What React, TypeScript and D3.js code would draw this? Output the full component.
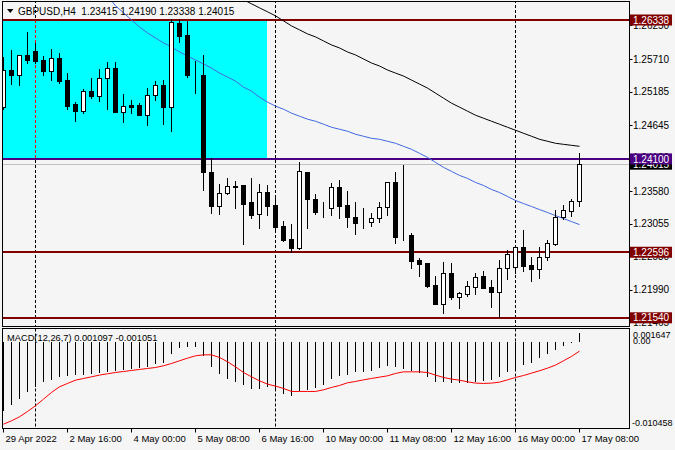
import React from 'react';
import * as d3 from 'd3';

// GBPUSD H4 candles, 29 Apr 2022 .. 17 May 2022 08:00
const opens = [
  1.24934, 1.25532, 1.25451, 1.25775, 1.25839, 1.25694, 1.25516, 1.25726, 1.2537, 1.24982,
  1.24869, 1.25192, 1.25112, 1.25403, 1.25564, 1.24853, 1.24966, 1.24966, 1.24804, 1.25128,
  1.25289, 1.24934, 1.26292, 1.26098, 1.25451, 1.25451, 1.23883, 1.23349, 1.23543, 1.23656,
  1.23672, 1.23398, 1.2322, 1.23559, 1.23365, 1.23026, 1.22815, 1.2267, 1.23883, 1.23462,
  1.23268, 1.23301, 1.2364, 1.23365, 1.23171, 1.2309, 1.2309, 1.23155, 1.23333, 1.23721,
  1.22864, 1.2288, 1.22476, 1.22427, 1.22072, 1.21764, 1.22266, 1.21878, 1.21926, 1.22039,
  1.22217, 1.22039, 1.21958, 1.22346, 1.22363, 1.22686, 1.22395, 1.2233, 1.22524, 1.22735,
  1.23171, 1.23268, 1.23415,
];
const highs = [
  1.25742, 1.25855, 1.25775, 1.26146, 1.25969, 1.25758, 1.25872, 1.25807, 1.25483, 1.25015,
  1.25225, 1.25403, 1.25548, 1.25661, 1.25661, 1.25144, 1.25047, 1.24998, 1.25241, 1.25354,
  1.2537, 1.26357, 1.26357, 1.26324, 1.25677, 1.25775, 1.24109, 1.23689, 1.23786, 1.23737,
  1.23672, 1.23786, 1.23689, 1.23672, 1.23478, 1.23106, 1.23058, 1.24044, 1.23883, 1.23527,
  1.23398, 1.23705, 1.23753, 1.23575, 1.23398, 1.23301, 1.23236, 1.23398, 1.23721, 1.23883,
  1.23996, 1.22912, 1.22508, 1.22427, 1.22217, 1.22443, 1.22427, 1.21958, 1.22136, 1.22266,
  1.22298, 1.22152, 1.22476, 1.22638, 1.22686, 1.22961, 1.22524, 1.22686, 1.22799, 1.23284,
  1.23365, 1.23462, 1.2419,
];
const lows = [
  1.24901, 1.25306, 1.25289, 1.25645, 1.25645, 1.25451, 1.2537, 1.25322, 1.24901, 1.24707,
  1.24837, 1.25079, 1.25031, 1.24901, 1.24853, 1.24691, 1.24837, 1.24804, 1.24643, 1.25047,
  1.24659, 1.24546, 1.25985, 1.25419, 1.2516, 1.23592, 1.23236, 1.2322, 1.23527, 1.23317,
  1.22735, 1.23155, 1.22993, 1.23203, 1.22929, 1.22783, 1.22605, 1.22654, 1.22993, 1.2322,
  1.23171, 1.23203, 1.23155, 1.23009, 1.22896, 1.22993, 1.23026, 1.2309, 1.23203, 1.22751,
  1.22799, 1.22346, 1.22217, 1.22039, 1.21764, 1.21619, 1.21845, 1.217, 1.21894, 1.21926,
  1.22023, 1.21716, 1.21554, 1.22169, 1.22266, 1.22298, 1.22136, 1.22185, 1.22476, 1.22718,
  1.23139, 1.23187, 1.23338,
];
const closes = [
  1.25532, 1.25451, 1.25775, 1.25694, 1.25677, 1.25516, 1.25726, 1.25354, 1.2495, 1.24869,
  1.25192, 1.25112, 1.25403, 1.25564, 1.24853, 1.2495, 1.24934, 1.24804, 1.25128, 1.25289,
  1.24934, 1.26308, 1.26082, 1.25451, 1.25445, 1.23883, 1.23349, 1.23543, 1.23656, 1.2364,
  1.23381, 1.23203, 1.23559, 1.23349, 1.23009, 1.22799, 1.2267, 1.23899, 1.23462, 1.23252,
  1.2326, 1.2364, 1.23349, 1.23171, 1.23074, 1.23082, 1.23155, 1.23333, 1.23721, 1.22848,
  1.22856, 1.2246, 1.22411, 1.22055, 1.21764, 1.22266, 1.21878, 1.21942, 1.22055, 1.22201,
  1.22023, 1.21958, 1.22346, 1.22573, 1.22686, 1.22379, 1.2233, 1.22524, 1.22751, 1.23171,
  1.23284, 1.23414, 1.24015,
];

// moving averages (blue = fast, black = slow), first value belongs to the given candle index
const fastMAStart = 13;
const fastMA = [
  1.26729, 1.26567, 1.26454, 1.2634, 1.26227, 1.2613, 1.26049, 1.25969, 1.25904, 1.25823,
  1.25758, 1.25694, 1.25629, 1.25564, 1.25483, 1.25419, 1.25354, 1.25257, 1.25192, 1.25095,
  1.25015, 1.2495, 1.24901, 1.24837, 1.24788, 1.2474, 1.24707, 1.24659, 1.2461, 1.24578,
  1.24546, 1.24497, 1.24465, 1.24432, 1.24416, 1.24384, 1.24352, 1.24303, 1.24255, 1.2419,
  1.24125, 1.24044, 1.23964, 1.23899, 1.23834, 1.23786, 1.23721, 1.23672, 1.23608, 1.23559,
  1.23495, 1.2343, 1.23381, 1.23333, 1.23284, 1.23236, 1.23187, 1.23139, 1.2309, 1.23042,
];
const slowMAStart = 29;
const slowMA = [
  1.26729, 1.26664, 1.26599, 1.26534, 1.2647, 1.26405, 1.26324, 1.26243, 1.26179, 1.26114,
  1.26066, 1.26001, 1.25936, 1.25888, 1.25823, 1.25775, 1.2571, 1.25645, 1.25597, 1.25532,
  1.25483, 1.25435, 1.2537, 1.25306, 1.25241, 1.2516, 1.25079, 1.24998, 1.24934, 1.24869,
  1.24804, 1.24756, 1.24707, 1.24659, 1.2461, 1.24562, 1.24513, 1.24465, 1.24416, 1.24384,
  1.24352, 1.24335, 1.24319, 1.24303,
];

// MACD(12,26,7)
const macdMain = [
  -0.00835, -0.00767, -0.00693, -0.00611, -0.0055, -0.00489, -0.00456, -0.00428, -0.00416, -0.004,
  -0.004, -0.00388, -0.00375, -0.00358, -0.00346, -0.00334, -0.00327, -0.00314, -0.00306, -0.00265,
  -0.00253, -0.00135, -0.0007, -0.00053, -0.00053, -0.00163, -0.00297, -0.00388, -0.00449, -0.00489,
  -0.00517, -0.00571, -0.00571, -0.0055, -0.00591, -0.00632, -0.0066, -0.00599, -0.00587, -0.00554,
  -0.00517, -0.00446, -0.00416, -0.00395, -0.00367, -0.00355, -0.00346, -0.00318, -0.00293, -0.00306,
  -0.00327, -0.00346, -0.00379, -0.00428, -0.00481, -0.00489, -0.00501, -0.00501, -0.00501, -0.00489,
  -0.00468, -0.00461, -0.00428, -0.00367, -0.0033, -0.00281, -0.00245, -0.00196, -0.00141, -0.00092,
  -0.0004, -0.0001, 0.001097,
];
const macdSignal = [
  -0.00999, -0.00958, -0.00909, -0.00844, -0.00774, -0.00693, -0.00611, -0.00542, -0.00501, -0.00461,
  -0.0044, -0.0042, -0.00399, -0.00383, -0.00367, -0.00355, -0.00342, -0.0033, -0.00318, -0.00306,
  -0.00285, -0.00257, -0.00224, -0.00192, -0.00163, -0.00151, -0.00151, -0.00183, -0.00236, -0.00298,
  -0.00367, -0.0042, -0.00469, -0.00509, -0.00534, -0.00562, -0.00599, -0.00599, -0.00599, -0.00599,
  -0.00579, -0.0055, -0.00526, -0.00493, -0.00477, -0.00457, -0.0044, -0.00424, -0.00408, -0.00379,
  -0.00359, -0.00359, -0.00359, -0.00367, -0.00399, -0.00428, -0.00448, -0.00461, -0.00481, -0.00497,
  -0.00501, -0.00497, -0.00485, -0.00457, -0.00428, -0.00404, -0.00375, -0.00346, -0.00314, -0.00277,
  -0.00224, -0.00171, -0.001051,
];
const macdMax = 0.001647;
const macdMin = -0.010458;

const timeTickIndex = [0, 8, 16, 24, 32, 40, 48, 56, 64, 72];
const timeTickText = [
  '29 Apr 2022', '2 May 16:00', '4 May 00:00', '5 May 08:00', '6 May 16:00',
  '10 May 00:00', '11 May 08:00', '12 May 16:00', '16 May 00:00', '17 May 08:00',
];
const separatorIndex = [4, 34, 64];

const priceTicks = [1.2625, 1.2571, 1.25185, 1.24645, 1.2412, 1.2358, 1.23055, 1.2253, 1.2199, 1.21465];
const levelPrices = [1.26338, 1.241, 1.22596, 1.2154];
const levelColors = ['#800000', '#4b0082', '#800000', '#800000'];
const zoneTop = 1.26338;
const zoneBottom = 1.241;
const zoneEndIndex = 33;
const bidPrice = 1.24015;
const header = 'GBPUSD,H4  1.23415 1.24190 1.23338 1.24015';
const macdHeader = 'MACD(12,26,7) 0.001097 -0.001051';

const W = 675;
const H = 450;
const FONT = '"Liberation Sans", Arial, sans-serif';

const App: React.FC = () => {
  const frame = { left: 2.5, right: 629.5, top: 1.5, bottom: 326.5, macdTop: 328.5, macdBottom: 428.5 };

  const x = d3.scaleLinear().domain([0, 72]).range([3.5, 579.5]);
  const y = d3.scaleLinear().domain([1.26338, 1.2154]).range([20, 317.8]);
  const ym = d3.scaleLinear().domain([macdMax, macdMin]).range([329, 428]);
  const fmt = d3.format('.5f');

  const maLine = (start: number) =>
    d3.line<number>().x((_, i) => x(start + i)).y((d) => y(d));
  const signalLine = d3.line<number>().x((_, i) => x(i)).y((d) => ym(d));

  const candles = opens.map((o, i) => ({ o, h: highs[i], l: lows[i], c: closes[i], i }));

  const levelLabel = (p: number, fill: string, key: string) => {
    const yy = y(p);
    return (
      <g key={key}>
        <rect x={630} y={yy - 5.5} width={42} height={11} fill={fill} />
        <text x={633} y={yy + 3.6} fill="#fff">{fmt(p)}</text>
      </g>
    );
  };

  return (
    <svg width={W} height={H} style={{ position: 'absolute', left: 0, top: 0 }}
      fontFamily={FONT} fontSize={10}>
      <defs>
        <clipPath id="mainClip">
          <rect x={3} y={2} width={626} height={324} />
        </clipPath>
        <clipPath id="macdClip">
          <rect x={3} y={329} width={626} height={99} />
        </clipPath>
      </defs>
      <rect width={W} height={H} fill="#f5f5f5" />

      {/* main panel */}
      <g clipPath="url(#mainClip)">
        <rect x={0} y={y(zoneTop)} width={x(zoneEndIndex) - 0.5} height={y(zoneBottom) - y(zoneTop)} fill="#00ffff" />
        {separatorIndex.map((s) => (
          <line key={s} x1={x(s)} x2={x(s)} y1={0} y2={frame.bottom} stroke="#000" strokeDasharray="3,2" />
        ))}
        {separatorIndex.filter((s) => s < zoneEndIndex).map((s) => (
          <line key={'r' + s} x1={x(s)} x2={x(s)} y1={y(zoneTop)} y2={y(zoneBottom)} stroke="#ff0000" strokeDasharray="3,2" />
        ))}
        <line x1={0} x2={W} y1={Math.round(y(bidPrice)) + 0.5} y2={Math.round(y(bidPrice)) + 0.5} stroke="#c0c0c0" />
        {levelPrices.map((p, k) => (
          <line key={p} x1={0} x2={W} y1={Math.round(y(p))} y2={Math.round(y(p))} stroke={levelColors[k]} strokeWidth={2} />
        ))}
        <path d={maLine(slowMAStart)(slowMA) || ''} fill="none" stroke="#000" strokeWidth={1} />
        <path d={maLine(fastMAStart)(fastMA) || ''} fill="none" stroke="#4169e1" strokeWidth={1} />
        <g shapeRendering="crispEdges">
          {candles.map((d) => {
            const cx = x(d.i);
            const top = Math.round(y(Math.max(d.o, d.c)));
            const bot = Math.round(y(Math.min(d.o, d.c)));
            const bull = d.c >= d.o;
            return (
              <g key={d.i}>
                <line x1={cx} x2={cx} y1={Math.round(y(d.h))} y2={Math.round(y(d.l)) + 1} stroke="#000" />
                <rect x={cx - 2} y={top + 0.5} width={4} height={Math.max(0, bot - top)}
                  fill={bull ? '#fff' : '#000'} stroke="#000" />
              </g>
            );
          })}
        </g>
      </g>
      {/* header */}
      <path d="M7,9 L13.5,9 L10.25,13 Z" fill="#000" />
      <text x={18} y={14.5} style={{ whiteSpace: 'pre' }}>{header}</text>

      {/* macd panel */}
      <g clipPath="url(#macdClip)">
        {separatorIndex.map((s) => (
          <line key={s} x1={x(s)} x2={x(s)} y1={frame.macdTop} y2={frame.macdBottom} stroke="#000" strokeDasharray="3,2" />
        ))}
        <g shapeRendering="crispEdges">
          {macdMain.map((v, i) => (
            <line key={i} x1={x(i)} x2={x(i)} y1={Math.round(ym(0))} y2={Math.round(ym(v))} stroke="#000" />
          ))}
        </g>
        <path d={signalLine(macdSignal) || ''} fill="none" stroke="#ff0000" strokeWidth={1} />
      </g>
      <text x={7} y={341} fontSize={9.3}>{macdHeader}</text>

      {/* frames */}
      <g fill="none" stroke="#000" shapeRendering="crispEdges">
        <rect x={frame.left} y={frame.top} width={frame.right - frame.left} height={frame.bottom - frame.top} />
        <rect x={frame.left} y={frame.macdTop} width={frame.right - frame.left} height={frame.macdBottom - frame.macdTop} />
      </g>

      {/* price axis */}
      <g>
        {priceTicks.map((p) => (
          <g key={p}>
            <line x1={629.5} x2={632.5} y1={Math.round(y(p)) + 0.5} y2={Math.round(y(p)) + 0.5} stroke="#000" />
            <text x={633} y={y(p) + 3.6}>{fmt(p)}</text>
          </g>
        ))}
        {levelLabel(bidPrice, '#000', 'bid')}
        {levelPrices.map((p, k) => levelLabel(p, levelColors[k], 'lv' + k))}
      </g>

      {/* macd axis */}
      <g fontSize={9}>
        <text x={633} y={ym(macdMax) + 8.5}>{macdMax.toFixed(6)}</text>
        <text x={633} y={ym(0) + 1.8}>0.00</text>
        <text x={632} y={ym(macdMin) - 2}>{macdMin.toFixed(6)}</text>
      </g>

      {/* time axis */}
      <g>
        {timeTickIndex.map((t, k) => (
          <g key={t}>
            <line x1={x(t)} x2={x(t)} y1={frame.macdBottom} y2={frame.macdBottom + 4} stroke="#000" />
            <text x={x(t) + 2} y={442} fontSize={9.5}>{timeTickText[k]}</text>
          </g>
        ))}
      </g>
    </svg>
  );
};

export default App;
